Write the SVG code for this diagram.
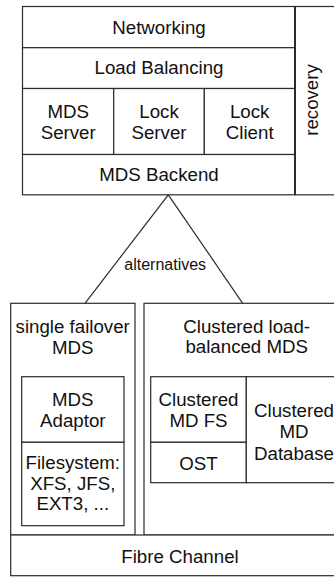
<svg xmlns="http://www.w3.org/2000/svg" width="334" height="577" viewBox="0 0 334 577">
  <style>
    .box { fill: #ffffff; stroke: #2b2b2b; stroke-width: 1.2; }
    .line { fill: none; stroke: #2b2b2b; stroke-width: 1.2; }
    .thick { fill: none; stroke: #2b2b2b; stroke-width: 2; }
    text { font-family: "Liberation Sans", Arial, sans-serif; font-size: 18.7px; fill: #111111; text-anchor: middle; }
    .small { font-size: 16px; }
  </style>
  <rect width="334" height="577" fill="#ffffff"/>

  <!-- recovery column, running off the right edge -->
  <g id="recovery">
    <rect class="box" x="295" y="6.5" width="60" height="188.3"/>
    <text transform="translate(317.5 100) rotate(-90)" x="0" y="0">recovery</text>
  </g>

  <!-- MDS stack -->
  <g id="networking">
    <rect class="box" x="22.5" y="6.5" width="272.5" height="41.2"/>
    <text x="159" y="33.5">Networking</text>
  </g>
  <g id="load-balancing">
    <rect class="box" x="22.5" y="47.7" width="272.5" height="40.8"/>
    <text x="159" y="74.3">Load Balancing</text>
  </g>
  <g id="mds-server">
    <rect class="box" x="22.5" y="88.5" width="91.2" height="66"/>
    <text x="68.2" y="118.3">MDS</text>
    <text x="68.2" y="139.2">Server</text>
  </g>
  <g id="lock-server">
    <rect class="box" x="113.7" y="88.5" width="90.6" height="66"/>
    <text x="159" y="118.3">Lock</text>
    <text x="159" y="139.2">Server</text>
  </g>
  <g id="lock-client">
    <rect class="box" x="204.3" y="88.5" width="90.7" height="66"/>
    <text x="249.7" y="118.3">Lock</text>
    <text x="249.7" y="139.2">Client</text>
  </g>
  <g id="mds-backend">
    <rect class="box" x="22.5" y="154.5" width="272.5" height="40.3"/>
    <text x="159" y="180.5">MDS Backend</text>
  </g>
  <line class="thick" x1="295" y1="6.5" x2="295" y2="194.8"/>

  <!-- alternatives fork -->
  <g id="connectors">
    <line class="line" x1="168.3" y1="194.8" x2="85" y2="303.3"/>
    <line class="line" x1="168.3" y1="194.8" x2="242.7" y2="303.3"/>
    <text class="small" x="165.2" y="269.5">alternatives</text>
  </g>

  <!-- single failover MDS -->
  <g id="single-failover">
    <rect class="box" x="10.7" y="303.3" width="124.3" height="231.7"/>
    <text x="72.7" y="333.3">single failover</text>
    <text x="72.7" y="354">MDS</text>
  </g>
  <g id="mds-adaptor">
    <rect class="box" x="21.7" y="376.7" width="102.3" height="65.6"/>
    <text x="72.8" y="405.7">MDS</text>
    <text x="72.8" y="426.7">Adaptor</text>
  </g>
  <g id="filesystem">
    <rect class="box" x="21.7" y="442.3" width="102.3" height="83.4"/>
    <text x="72.8" y="469">Filesystem:</text>
    <text x="72.8" y="489.5">XFS, JFS,</text>
    <text x="72.8" y="510">EXT3, ...</text>
  </g>

  <!-- clustered load-balanced MDS -->
  <g id="clustered-mds">
    <rect class="box" x="144" y="303.3" width="210" height="231.7"/>
    <text x="246.7" y="332.5">Clustered load-</text>
    <text x="246.7" y="353.3">balanced MDS</text>
  </g>
  <g id="clustered-md-fs">
    <rect class="box" x="150.7" y="376.7" width="95.6" height="65.6"/>
    <text x="198.5" y="405.7">Clustered</text>
    <text x="198.5" y="426.7">MD FS</text>
  </g>
  <g id="ost">
    <rect class="box" x="150.7" y="442.3" width="95.6" height="40.4"/>
    <text x="198.5" y="470">OST</text>
  </g>
  <g id="clustered-md-database">
    <rect class="box" x="246.3" y="376.7" width="100" height="106"/>
    <text x="294" y="417.3">Clustered</text>
    <text x="294" y="438.3">MD</text>
    <text x="294" y="459.5">Database</text>
  </g>

  <!-- Fibre Channel -->
  <g id="fibre-channel">
    <rect class="box" x="10.7" y="535" width="340" height="40.7"/>
    <text x="180" y="563">Fibre Channel</text>
  </g>
</svg>
